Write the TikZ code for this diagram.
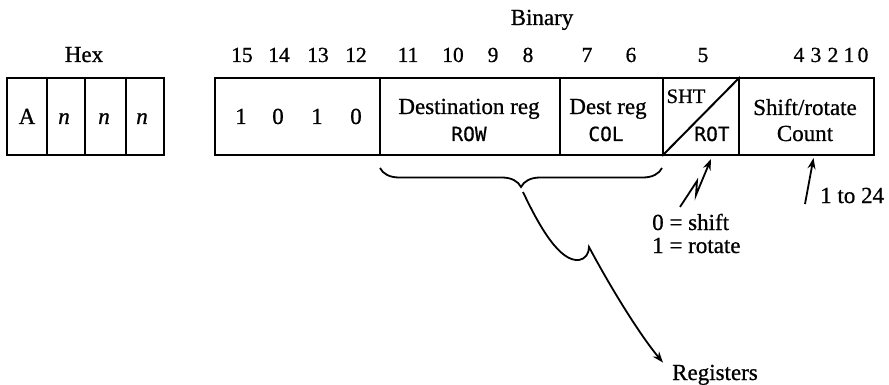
\documentclass[tikz,border=0pt]{standalone}
\usepackage{fontspec}
\setmainfont{Liberation Serif}[FakeBold=0.8]
\setmonofont{DejaVu Sans Mono}[FakeBold=0.6]
\usetikzlibrary{decorations.pathreplacing,arrows.meta}
\begin{document}
\begin{tikzpicture}[x=1pt,y=-1pt,
  field/.style={draw, line width=2pt, minimum height=77pt, inner sep=0pt, anchor=north west},
  txt/.style={anchor=base, inner sep=0pt, font=\fontsize{23}{25}\selectfont},
  num/.style={anchor=base, inner sep=0pt, font=\fontsize{21.5}{24}\selectfont},
  mono/.style={anchor=base, inner sep=0pt, font=\fontsize{19.5}{22}\selectfont\ttfamily},
  ptr/.style={line width=1.8pt, -{Stealth[length=11pt,width=8pt]}},
  bracestyle/.style={line width=1.8pt, decorate, decoration={brace, mirror, amplitude=19pt}}]
\useasboundingbox (0,0) rectangle (889,385);
% hex fields
\node[field, minimum width=40pt] (hA) at (6,77) {};
\node[field, minimum width=38pt] (hn1) at (46,77) {};
\node[field, minimum width=41pt] (hn2) at (84,77) {};
\node[field, minimum width=38pt] (hn3) at (125,77) {};
% binary fields
\node[field, minimum width=165pt] (bop) at (214,77) {};
\node[field, minimum width=180pt] (brow) at (379,77) {};
\node[field, minimum width=103pt] (bcol) at (559,77) {};
\node[field, minimum width=76pt] (bsr) at (662,77) {};
\node[field, minimum width=135pt] (bcnt) at (738,77) {};
\draw[line width=2pt] (bsr.south west) -- (bsr.north east);
% labels
\node[txt] (hexlbl) at (84,62) {Hex};
\node[txt] (binlbl) at (542,25) {Binary};
\node[txt] (tA) at (27,124) {A};
\node[txt] (tn1) at (64,124) {\itshape n};
\node[txt] (tn2) at (104,124) {\itshape n};
\node[txt] (tn3) at (142,124) {\itshape n};
% bit numbers
\foreach \b/\x in {15/242,14/279,13/318,12/356,11/408,10/453,9/493,8/528,7/587,6/631,5/703,4/799,3/816,2/833,1/849,0/863}
  \node[num] (bit\b) at (\x,62) {\b};
% op code bits
\node[txt] (o1) at (241,124) {1};
\node[txt] (o2) at (278,124) {0};
\node[txt] (o3) at (317,124) {1};
\node[txt] (o4) at (356,124) {0};
% field texts
\node[txt] (destrow) at (469,114) {Destination reg};
\node[mono] (row) at (469,141) {ROW};
\node[txt] (destcol) at (608,114) {Dest reg};
\node[mono] (col) at (606,141) {COL};
\node[anchor=base, inner sep=0pt, font=\fontsize{20.5}{22}\selectfont] (sht) at (686,103) {SHT};
\node[mono] (rot) at (712,141) {ROT};
\node[txt] (sr) at (805,115) {Shift/rotate};
\node[txt] (cnt) at (805,141) {Count};
% bottom texts
\node[anchor=base west, inner sep=0pt, font=\fontsize{23}{25}\selectfont] (shift) at (652,230) {0 = shift};
\node[anchor=base west, inner sep=0pt, font=\fontsize{23}{25}\selectfont] (rotate) at (652,253) {1 = rotate};
\node[anchor=base west, inner sep=0pt, font=\fontsize{23}{25}\selectfont] (range) at (820,203) {1 to 24};
\node[anchor=base west, inner sep=0pt, font=\fontsize{23}{25}\selectfont] (reg) at (672,380) {Registers};
% brace
\coordinate (brL) at (380,168);
\coordinate (brR) at (662,168);
\draw[bracestyle] (brL) -- (brR);
\coordinate (brtip) at (523,192);
\draw[ptr] (brtip) .. controls (540,228) and (560,262) .. (579,260)
  .. controls (585,259) and (589,254) .. (589,247)
  .. controls (612,290) and (640,335) .. ([xshift=-9pt,yshift=2pt]reg.north west);
% zigzag arrow to SHT/ROT
\coordinate (zz) at (680,207);
\draw[ptr] (zz) -- (697,181) -- (696,195) -- ([xshift=10pt,yshift=-3pt]bsr.south);
% count arrow
\coordinate (ca) at (805,204);
\draw[ptr] (ca) -- ([xshift=7pt,yshift=-2pt]bcnt.south);
\end{tikzpicture}
\end{document}
